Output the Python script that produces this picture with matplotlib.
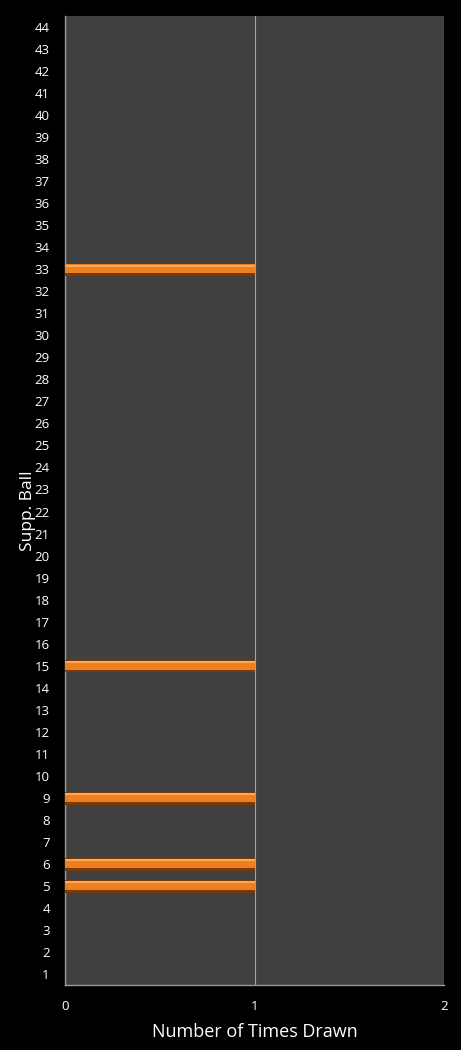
import matplotlib.pyplot as plt
import numpy as np

# supplementary ball numbers and how often each was drawn
balls = list(range(1, 45))
drawn = {5: 1, 6: 1, 9: 1, 15: 1, 33: 1}
counts = [drawn.get(b, 0) for b in balls]
x_ticks = [0, 1, 2]

plt.rcParams['font.family'] = ['Open Sans', 'DejaVu Sans']

fig = plt.figure(figsize=(4.61, 10.5), dpi=100, facecolor='black')
ax = fig.add_axes([65 / 461, 65 / 1050, 379 / 461, 969 / 1050])
ax.set_facecolor('#404040')

# bars: dark rim, orange body, lighter highlight near the top
y = np.array(balls)
ax.barh(y - 0.03, counts, height=0.56, color='#7a3a08', zorder=3)
ax.barh(y + 0.02, counts, height=0.42, color='#ee7f1e', zorder=4)
ax.barh(y + 0.16, counts, height=0.1, color='#f9aa5c', zorder=5)

ax.set_xlim(0, 2)
ax.set_ylim(0.5, 44.5)
ax.set_xticks(x_ticks)
ax.set_yticks(balls)
ax.grid(axis='x', color='#a0a0a0', linewidth=0.8, zorder=1)
ax.set_axisbelow(True)

for side in ['top', 'right']:
    ax.spines[side].set_visible(False)
for side in ['left', 'bottom']:
    ax.spines[side].set_color('#9a9a9a')
    ax.spines[side].set_linewidth(1)

ax.tick_params(axis='both', length=0, colors='white', labelsize=9.5)
ax.tick_params(axis='y', pad=11)
ax.tick_params(axis='x', pad=11)

ax.set_xlabel('Number of Times Drawn', color='white', fontsize=13, labelpad=7)
ax.set_ylabel('Supp. Ball', color='white', fontsize=12.5)
ax.yaxis.set_label_coords(-0.076, 0.49)

fig.savefig('out.png', dpi=100, facecolor='black')
